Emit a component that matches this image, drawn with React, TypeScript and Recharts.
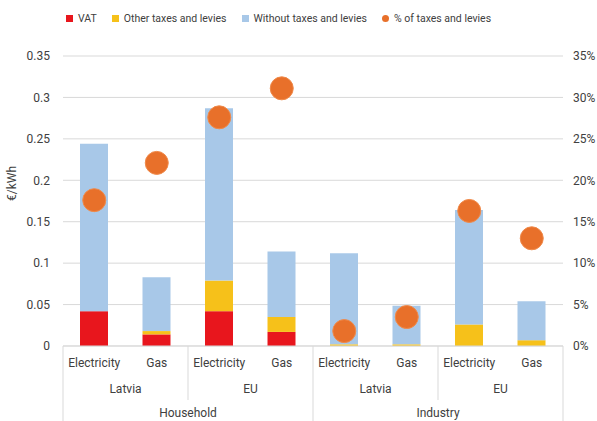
import { ComposedChart, Bar, Line, XAxis, YAxis, CartesianGrid, Legend } from 'recharts'

const carriers = ['Electricity', 'Gas', 'Electricity', 'Gas', 'Electricity', 'Gas', 'Electricity', 'Gas']
const regions = ['Latvia', 'Latvia', 'EU', 'EU', 'Latvia', 'Latvia', 'EU', 'EU']
const groups = ['Household', 'Household', 'Household', 'Household', 'Industry', 'Industry', 'Industry', 'Industry']

const vat = [0.042, 0.014, 0.042, 0.017, 0, 0, 0, 0]
const otherTaxes = [0, 0.004, 0.037, 0.018, 0.002, 0.002, 0.026, 0.007]
const withoutTaxes = [0.202, 0.065, 0.208, 0.079, 0.11, 0.0465, 0.138, 0.047]
const taxShare = [17.6, 22.1, 27.6, 31.1, 1.8, 3.5, 16.3, 13.0]

const leftTicks = [0, 0.05, 0.1, 0.15, 0.2, 0.25, 0.3, 0.35]
const rightTicks = [0, 5, 10, 15, 20, 25, 30, 35]

const data = carriers.map((c, i) => ({
  key: i,
  carrier: c,
  region: regions[i],
  group: groups[i],
  vat: vat[i],
  other: otherTaxes[i],
  without: withoutTaxes[i],
  pct: taxShare[i],
}))

const W = 597
const H = 421
const LEFT = 63
const RIGHT_W = 34
const TOP = 43
const AXIS_H = 75
const catW = (W - LEFT - RIGHT_W) / data.length

const TEXT = '#404040'
const GRID = '#d9d9d9'
const FONT = 'Roboto, "Liberation Sans", sans-serif'

// three-row category axis: carrier / country / sector, with Excel-style separators
function MultiTick(props: any) {
  const { x, y, payload } = props
  const i = payload.index
  const d = data[i]
  const left = x - catW / 2
  return (
    <g>
      <text x={x} y={y + 21} textAnchor="middle" fill={TEXT} fontSize={12} fontFamily={FONT}>
        {d.carrier}
      </text>
      {i % 2 === 0 && (
        <text x={x + catW / 2} y={y + 47} textAnchor="middle" fill={TEXT} fontSize={12} fontFamily={FONT}>
          {d.region}
        </text>
      )}
      {i % 4 === 0 && (
        <text x={x + catW * 1.5} y={y + 71} textAnchor="middle" fill={TEXT} fontSize={12} fontFamily={FONT}>
          {d.group}
        </text>
      )}
      {i % 2 === 0 && (
        <line x1={left} x2={left} y1={y} y2={i % 4 === 0 ? y + AXIS_H : y + 54} stroke={GRID} />
      )}
      {i === data.length - 1 && (
        <line x1={x + catW / 2} x2={x + catW / 2} y1={y} y2={y + AXIS_H} stroke={GRID} />
      )}
    </g>
  )
}

const legendItems = [
  { label: 'VAT', color: '#e8161d', shape: 'square' },
  { label: 'Other taxes and levies', color: '#f6c11a', shape: 'square' },
  { label: 'Without taxes and levies', color: '#a8c8e8', shape: 'square' },
  { label: '% of taxes and levies', color: '#e8702a', shape: 'circle' },
]

function LegendRow() {
  return (
    <div style={{ display: 'flex', alignItems: 'center', paddingLeft: 66, fontFamily: FONT, fontSize: 10.5, color: TEXT }}>
      {legendItems.map((it) => (
        <div key={it.label} style={{ display: 'flex', alignItems: 'center', marginRight: 15 }}>
          <span
            style={{
              display: 'inline-block',
              width: 7,
              height: 7,
              background: it.color,
              borderRadius: it.shape === 'circle' ? '50%' : 0,
              marginRight: 5,
            }}
          />
          {it.label}
        </div>
      ))}
    </div>
  )
}

export default function App() {
  return (
    <div style={{ position: 'absolute', left: 0, top: 0, width: W, height: H, background: '#fff' }}>
      <ComposedChart
        width={W}
        height={H}
        data={data}
        barSize={28}
        margin={{ top: TOP, right: 0, left: 0, bottom: 0 }}
      >
        <CartesianGrid vertical={false} stroke={GRID} yAxisId="left" />
        <XAxis
          dataKey="key"
          height={AXIS_H}
          axisLine={{ stroke: GRID }}
          tickLine={false}
          tickSize={0}
          tickMargin={0}
          interval={0}
          tick={<MultiTick />}
        />
        <YAxis
          yAxisId="left"
          width={LEFT}
          domain={[0, 0.35]}
          ticks={leftTicks}
          axisLine={false}
          tickLine={false}
          tickMargin={7}
          tick={{ fill: TEXT, fontSize: 12, fontFamily: FONT }}
          label={{ value: '€/kWh', angle: -90, position: 'insideLeft', offset: 12, fill: TEXT, fontSize: 12, fontFamily: FONT }}
        />
        <YAxis
          yAxisId="right"
          orientation="right"
          width={RIGHT_W}
          domain={[0, 35]}
          ticks={rightTicks}
          tickFormatter={(v) => `${v}%`}
          axisLine={false}
          tickLine={false}
          tickMargin={4}
          tick={{ fill: TEXT, fontSize: 12, fontFamily: FONT, textAnchor: 'start' }}
        />
        <Legend verticalAlign="top" content={<LegendRow />} wrapperStyle={{ top: 12, left: 0, width: W }} />
        <Bar yAxisId="left" dataKey="vat" stackId="a" fill="#e8161d" isAnimationActive={false} />
        <Bar yAxisId="left" dataKey="other" stackId="a" fill="#f6c11a" isAnimationActive={false} />
        <Bar yAxisId="left" dataKey="without" stackId="a" fill="#a8c8e8" isAnimationActive={false} />
        <Line
          yAxisId="right"
          dataKey="pct"
          stroke="none"
          dot={{ r: 11.5, fill: '#e8702a', stroke: '#f08a4a', strokeWidth: 1 }}
          activeDot={false}
          isAnimationActive={false}
        />
      </ComposedChart>
    </div>
  )
}
